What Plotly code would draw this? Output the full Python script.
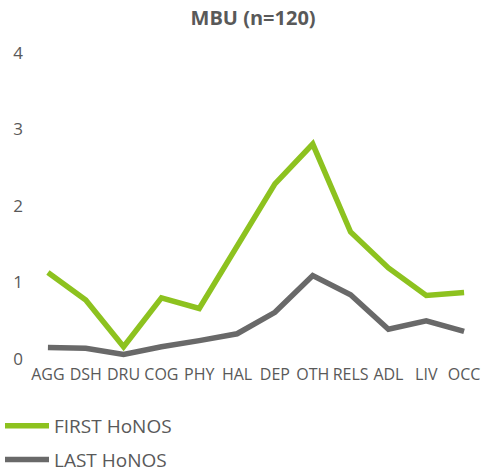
import plotly.graph_objects as go

categories = ["AGG", "DSH", "DRU", "COG", "PHY", "HAL", "DEP", "OTH", "RELS", "ADL", "LIV", "OCC"]
first_honos = [1.13, 0.77, 0.16, 0.80, 0.66, 1.47, 2.29, 2.81, 1.66, 1.19, 0.83, 0.87]
last_honos = [0.15, 0.14, 0.06, 0.16, 0.24, 0.33, 0.61, 1.09, 0.84, 0.39, 0.50, 0.36]

green = "#8DC21F"
gray = "#696969"
text_color = "#595959"
font_family = "Open Sans, Noto Sans, sans-serif"

fig = go.Figure()
fig.add_trace(go.Scatter(x=categories, y=first_honos, mode="lines", name="FIRST HoNOS",
                         legendgroup="first", line=dict(color=green, width=5.5)))
fig.add_trace(go.Scatter(x=categories, y=last_honos, mode="lines", name="LAST HoNOS",
                         legendgroup="last", line=dict(color=gray, width=5.5)))

fig.update_layout(
    width=483, height=473,
    margin=dict(l=29, r=0, t=53, b=114, autoexpand=False),
    paper_bgcolor="white", plot_bgcolor="white",
    font=dict(family=font_family, color=text_color, size=17),
    title=dict(text="<b>MBU (n=120)</b>", x=0.524, xanchor="center", y=0.962, yanchor="middle",
               font=dict(size=20, color=text_color, family=font_family)),
    xaxis=dict(showgrid=False, zeroline=False, showline=False, ticks="", tickangle=0,
               range=[-0.5, len(categories) - 0.5], ticklabelstandoff=4,
               tickfont=dict(size=16, color=text_color)),
    yaxis=dict(range=[0, 4], dtick=1, showgrid=False, zeroline=False, showline=False,
               ticks="", tickfont=dict(size=17, color=text_color), ticklabelstandoff=5),
    legend=dict(orientation="v", x=0, xref="container", xanchor="left",
                y=1 - 407 / 473, yref="container", yanchor="top",
                font=dict(size=19, color=text_color), tracegroupgap=6, itemwidth=44),
    showlegend=True,
)

fig.write_html("out.html", config={"displayModeBar": False},
               post_script="document.body.style.margin='0';")
